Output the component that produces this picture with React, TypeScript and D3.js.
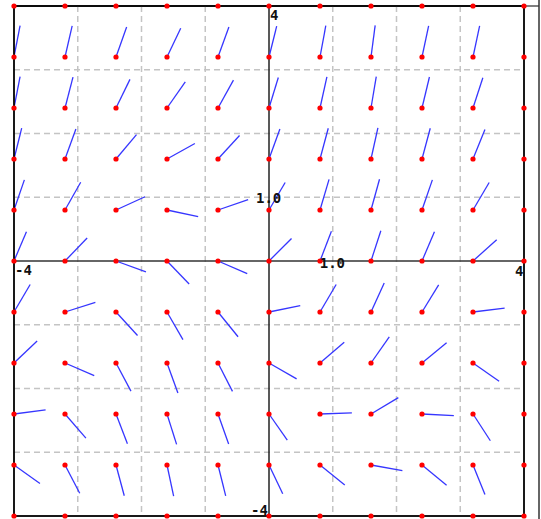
import React, { useRef, useEffect } from "react"
import * as d3 from "d3"

// grid where the field is sampled
const gridX = [-4, -3.2, -2.4, -1.6, -0.8, 0, 0.8, 1.6, 2.4, 3.2, 4]
const gridY = [4, 3.2, 2.4, 1.6, 0.8, 0, -0.8, -1.6, -2.4, -3.2, -4]

// segment direction (degrees) for x = -4 .. 3.2, one array per row
const angY32 = [79, 77, 70.5, 64.5, 70, 76, 79.5, 82.5, 78, 78]
const angY24 = [79, 75.5, 64, 55, 61, 73, 77.5, 80.5, 76.5, 72]
const angY16 = [76, 70, 50, 29, 47.5, 70, 75, 77.5, 75, 68]
const angY08 = [71, 60.5, 24.5, -12, 19, 59.5, 73.5, 74.5, 71, 59.5]
const angY0 = [67, 46, -20, -46, -23.5, 45, 69, 72, 67, 42]
const angYm08 = [59.5, 17.5, -47.5, -60, -51, 11.5, 59.5, 65.5, 58.5, 7]
const angYm16 = [43.5, -23.5, -62, -70, -63, -30, 40.5, 55, 39.5, -35]
const angYm24 = [7.5, -49, -69, -72.5, -70.5, -55, 2, 31, -3, -57]
const angYm32 = [-35.5, -62.5, -75, -78, -76, -64.5, -39, -10, -39.5, -68]

const rowY = [3.2, 2.4, 1.6, 0.8, 0, -0.8, -1.6, -2.4, -3.2]
const rowAngles = [angY32, angY24, angY16, angY08, angY0, angYm08, angYm16, angYm24, angYm32]

const gridTicks = [-3, -2, -1, 1, 2, 3]
const segLen = 0.5

const App = () => {
  const svgRef = useRef(null)

  useEffect(() => {
    const svg = d3.select(svgRef.current)
    svg.selectAll("*").remove()

    const x = d3.scaleLinear().domain([-4, 4]).range([14, 524])
    const y = d3.scaleLinear().domain([-4, 4]).range([516, 6])

    // outer panel lines
    svg.append("line").attr("x1", 14).attr("x2", 539).attr("y1", 6).attr("y2", 6)
      .attr("stroke", "#555").attr("stroke-width", 1.5)
    svg.append("line").attr("x1", 539).attr("x2", 539).attr("y1", 0).attr("y2", 519)
      .attr("stroke", "#333").attr("stroke-width", 1.5)

    svg.append("defs").append("clipPath").attr("id", "plotclip")
      .append("rect").attr("x", x(-4)).attr("y", y(4))
      .attr("width", x(4) - x(-4)).attr("height", y(-4) - y(4))

    const grid = svg.append("g").attr("stroke", "#c4c4c4").attr("stroke-width", 1.5)
      .attr("stroke-dasharray", "6,4")
    grid.selectAll(".gv").data(gridTicks).enter().append("line")
      .attr("x1", (d) => x(d)).attr("x2", (d) => x(d))
      .attr("y1", y(4)).attr("y2", y(-4))
    grid.selectAll(".gh").data(gridTicks).enter().append("line")
      .attr("y1", (d) => y(d)).attr("y2", (d) => y(d))
      .attr("x1", x(-4)).attr("x2", x(4))

    // axes
    svg.append("line").attr("x1", x(-4)).attr("x2", x(4)).attr("y1", y(0)).attr("y2", y(0))
      .attr("stroke", "#333").attr("stroke-width", 1.5)
    svg.append("line").attr("x1", x(0)).attr("x2", x(0)).attr("y1", y(4)).attr("y2", y(-4))
      .attr("stroke", "#222").attr("stroke-width", 1.5)

    // direction segments
    const segs = []
    rowAngles.forEach((row, j) => {
      row.forEach((a, i) => {
        const t = (a * Math.PI) / 180
        segs.push({ x0: gridX[i], y0: rowY[j], x1: gridX[i] + segLen * Math.cos(t), y1: rowY[j] + segLen * Math.sin(t) })
      })
    })
    svg.append("g").attr("clip-path", "url(#plotclip)")
      .selectAll("line").data(segs).enter().append("line")
      .attr("x1", (d) => x(d.x0)).attr("y1", (d) => y(d.y0))
      .attr("x2", (d) => x(d.x1)).attr("y2", (d) => y(d.y1))
      .attr("stroke", "#3636ff").attr("stroke-width", 1.3)

    // plot frame
    svg.append("rect").attr("x", x(-4)).attr("y", y(4))
      .attr("width", x(4) - x(-4)).attr("height", y(-4) - y(4))
      .attr("fill", "none").attr("stroke", "#000").attr("stroke-width", 1.8)

    // sample points
    const pts = []
    gridY.forEach((gy) => gridX.forEach((gx) => pts.push([gx, gy])))
    svg.append("g").selectAll("circle").data(pts).enter().append("circle")
      .attr("cx", (d) => x(d[0])).attr("cy", (d) => y(d[1])).attr("r", 2.6)
      .attr("fill", "#ff0000")

    // labels
    const labels = [
      { t: "4", px: x(0) + 1, py: y(4) + 14 },
      { t: "-4", px: x(-4) + 1, py: y(0) + 14 },
      { t: "4", px: x(4) - 9, py: y(0) + 15 },
      { t: "-4", px: x(0) - 18, py: y(-4) - 1 },
      { t: "1.0", px: x(0) - 13, py: y(1) + 6 },
      { t: "1.0", px: x(1) - 13, py: y(0) + 7 },
    ]
    svg.append("g").selectAll("text").data(labels).enter().append("text")
      .attr("x", (d) => d.px).attr("y", (d) => d.py)
      .attr("font-family", "DejaVu Sans Mono").attr("font-weight", "bold")
      .attr("font-size", 14).attr("fill", "#111")
      .text((d) => d.t)
  }, [])

  return (
    <svg ref={svgRef} width={541} height={519}
      style={{ position: "absolute", left: 0, top: 0, background: "#fff" }}></svg>
  )
}

export default App
